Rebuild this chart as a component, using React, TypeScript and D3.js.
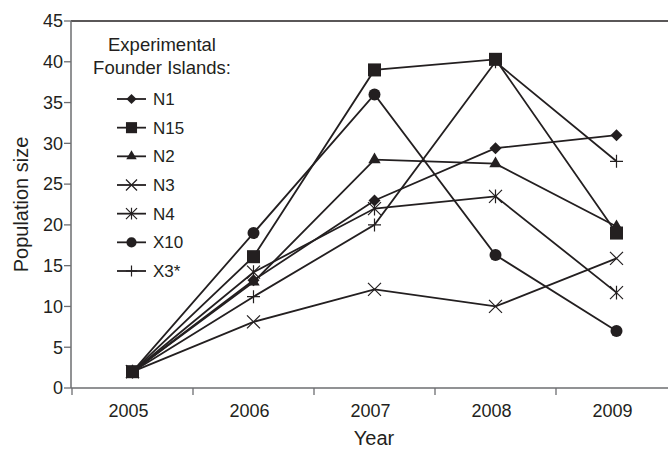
import React from 'react';
import * as d3 from 'd3';

// values
const years = ['2005', '2006', '2007', '2008', '2009'];
const yTicks = [0, 5, 10, 15, 20, 25, 30, 35, 40, 45];

const N1 = [2, 13.2, 23, 29.4, 31];
const N15 = [2, 16.1, 39, 40.3, 19];
const N2 = [2, 13, 28, 27.5, 19.8];
const N3 = [2, 8.1, 12.1, 10, 15.9];
const N4 = [2, 14.2, 22, 23.5, 11.7];
const X10 = [2, 19, 36, 16.3, 7];
const X3 = [2, 11.2, 20, 40, 27.8];

type Shape = 'diamond' | 'square' | 'triangle' | 'times' | 'asterisk' | 'circle' | 'plus';

const seriesList: { name: string; values: number[]; shape: Shape }[] = [
  { name: 'N1', values: N1, shape: 'diamond' },
  { name: 'N15', values: N15, shape: 'square' },
  { name: 'N2', values: N2, shape: 'triangle' },
  { name: 'N3', values: N3, shape: 'times' },
  { name: 'N4', values: N4, shape: 'asterisk' },
  { name: 'X10', values: X10, shape: 'circle' },
  { name: 'X3*', values: X3, shape: 'plus' },
];

// draw order: the square sits on top in the figure
const drawOrder = ['N1', 'N2', 'N3', 'N4', 'X10', 'X3*', 'N15'];

const W = 668;
const H = 450;
const margin = { top: 21, left: 71, bottom: 388 };
const ink = '#231f20';
const axisGrey = '#6d6e71';
const font = '"Liberation Sans", Arial, Helvetica, sans-serif';

const x = d3.scaleBand<string>().domain(years).range([margin.left + 1, margin.left + 1 + 121 * 5]);
const y = d3.scaleLinear().domain([0, 45]).range([margin.bottom, margin.top]);
const cx = (yr: string) => (x(yr) as number) + x.bandwidth() / 2;

function Marker({ shape, px, py, k = 1 }: { shape: Shape; px: number; py: number; k?: number }) {
  const t = `translate(${px},${py})`;
  if (shape === 'diamond') {
    const r = 6 * k;
    const p = d3.path();
    p.moveTo(0, -r); p.lineTo(r, 0); p.lineTo(0, r); p.lineTo(-r, 0); p.closePath();
    return <path transform={t} d={p.toString()} fill={ink} />;
  }
  if (shape === 'square') {
    return <path transform={t} d={d3.symbol(d3.symbolSquare, 170 * k * k)() as string} fill={ink} />;
  }
  if (shape === 'triangle') {
    return <path transform={t} d={d3.symbol(d3.symbolTriangle, 66 * k * k)() as string} fill={ink} />;
  }
  if (shape === 'circle') {
    return <circle cx={px} cy={py} r={6 * k} fill={ink} />;
  }
  const h = 6.5 * k;
  const p = d3.path();
  if (shape === 'times' || shape === 'asterisk') {
    p.moveTo(-h, -h); p.lineTo(h, h);
    p.moveTo(-h, h); p.lineTo(h, -h);
  }
  if (shape === 'asterisk') {
    p.moveTo(0, -h * 1.05); p.lineTo(0, h * 1.05);
  }
  if (shape === 'plus') {
    p.moveTo(-h, 0); p.lineTo(h, 0);
    p.moveTo(0, -h); p.lineTo(0, h);
  }
  return <path transform={t} d={p.toString()} fill="none" stroke={ink} strokeWidth={1.2} />;
}

export default function App() {
  const line = d3.line<number>()
    .x((_, i) => cx(years[i]))
    .y(d => y(d));

  const ordered = drawOrder.map(n => seriesList.find(s => s.name === n)!);
  const legendY = d3.scalePoint<string>().domain(seriesList.map(s => s.name)).range([99, 271]);

  return (
    <svg width={W} height={H} style={{ position: 'absolute', left: 0, top: 0, background: '#fff' }} fontFamily={font}>
      {/* top frame */}
      <line x1={margin.left} x2={W} y1={margin.top} y2={margin.top} stroke={ink} strokeWidth={1.6} />
      {/* y axis */}
      <line x1={margin.left} x2={margin.left} y1={margin.top} y2={margin.bottom} stroke={axisGrey} strokeWidth={1.5} />
      {yTicks.map(t => (
        <g key={t}>
          <line x1={margin.left - 7} x2={margin.left} y1={y(t)} y2={y(t)} stroke={axisGrey} strokeWidth={1.3} />
          <text x={margin.left - 8} y={y(t)} dy="0.35em" textAnchor="end" fontSize={18} fill={ink}>{t}</text>
        </g>
      ))}
      {/* x axis */}
      <line x1={margin.left} x2={W} y1={margin.bottom} y2={margin.bottom} stroke={axisGrey} strokeWidth={1.5} />
      {years.map(yr => (
        <g key={yr}>
          <line x1={x(yr)} x2={x(yr)} y1={margin.bottom} y2={margin.bottom + 7} stroke={axisGrey} strokeWidth={1.3} />
          <text x={cx(yr) - 4} y={417} textAnchor="middle" fontSize={18} fill={ink}>{yr}</text>
        </g>
      ))}
      <text x={374} y={445} textAnchor="middle" fontSize={20} fill={ink}>Year</text>
      <text transform={`translate(28,${(margin.top + margin.bottom) / 2}) rotate(-90)`} textAnchor="middle" fontSize={20} fill={ink}>Population size</text>

      {/* series lines */}
      {ordered.map(s => (
        <path key={s.name} d={line(s.values) as string} fill="none" stroke={ink} strokeWidth={1.8} />
      ))}
      {ordered.map(s => (
        <g key={s.name + 'm'}>
          {s.values.map((v, i) => (
            <Marker key={i} shape={s.shape} px={cx(years[i])} py={y(v)} />
          ))}
        </g>
      ))}

      {/* legend */}
      <text x={162} y={51} textAnchor="middle" fontSize={18.5} fill={ink}>Experimental</text>
      <text x={162} y={74} textAnchor="middle" fontSize={18.5} fill={ink}>Founder Islands:</text>
      {seriesList.map(s => {
        const ly = legendY(s.name) as number;
        return (
          <g key={s.name + 'l'}>
            <line x1={117} x2={146} y1={ly} y2={ly} stroke={ink} strokeWidth={1.8} />
            <Marker shape={s.shape} px={131.5} py={ly} k={0.85} />
            <text x={153} y={ly} dy="0.36em" fontSize={17} fill={ink}>{s.name}</text>
          </g>
        );
      })}
    </svg>
  );
}
